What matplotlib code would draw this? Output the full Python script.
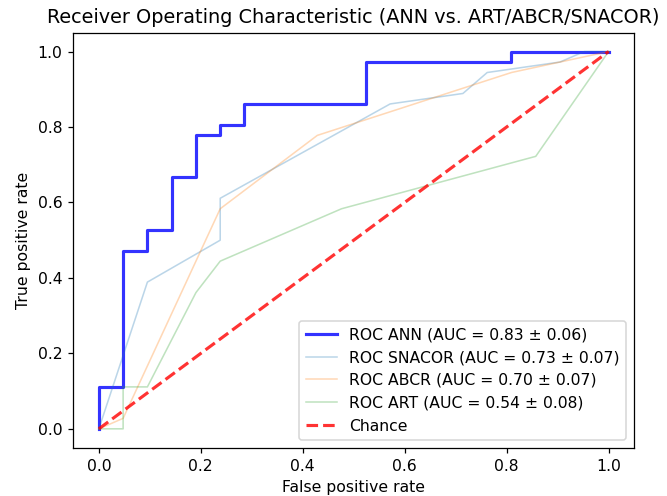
import matplotlib
matplotlib.use("Agg")
import matplotlib.pyplot as plt

# ROC points (21 negatives, 36 positives)
ann_fpr = [0, 0, 1/21, 1/21, 2/21, 2/21, 3/21, 3/21, 4/21, 4/21, 5/21, 5/21,
           6/21, 6/21, 11/21, 11/21, 17/21, 17/21, 1]
ann_tpr = [0, 4/36, 4/36, 17/36, 17/36, 19/36, 19/36, 24/36, 24/36, 28/36,
           28/36, 29/36, 29/36, 31/36, 31/36, 35/36, 35/36, 1, 1]

snacor_fpr = [0, 2/21, 5/21, 5/21, 12/21, 15/21, 16/21, 19/21, 20/21, 1]
snacor_tpr = [0, 14/36, 18/36, 22/36, 31/36, 32/36, 34/36, 35/36, 1, 1]

abcr_fpr = [0, 1/21, 5/21, 9/21, 17/21, 19/21, 1]
abcr_tpr = [0, 1/36, 21/36, 28/36, 34/36, 35/36, 1]

art_fpr = [0, 1/21, 1/21, 2/21, 4/21, 5/21, 10/21, 18/21, 1]
art_tpr = [0, 0, 4/36, 4/36, 13/36, 16/36, 21/36, 26/36, 1]

labels = ["ROC ANN (AUC = 0.83 ± 0.06)",
          "ROC SNACOR (AUC = 0.73 ± 0.07)",
          "ROC ABCR (AUC = 0.70 ± 0.07)",
          "ROC ART (AUC = 0.54 ± 0.08)",
          "Chance"]

dpi = 112.7
fig = plt.figure(figsize=(667 / dpi, 496 / dpi), dpi=dpi)
ax = fig.add_axes([0.110, 0.0974, 0.8406, 0.8367])

ax.plot(ann_fpr, ann_tpr, color="b", lw=2, alpha=0.8, label=labels[0])
ax.plot(snacor_fpr, snacor_tpr, color="C0", lw=1, alpha=0.3, label=labels[1])
ax.plot(abcr_fpr, abcr_tpr, color="C1", lw=1, alpha=0.3, label=labels[2])
ax.plot(art_fpr, art_tpr, color="C2", lw=1, alpha=0.3, label=labels[3])
ax.plot([0, 1], [0, 1], linestyle="--", lw=2, color="r", alpha=0.8, label=labels[4])

ax.set_xlabel("False positive rate")
ax.set_ylabel("True positive rate")
ax.set_title("Receiver Operating Characteristic (ANN vs. ART/ABCR/SNACOR)", fontsize=12.3)
ax.legend(loc="lower right")

fig.savefig("out.png", dpi=dpi)
